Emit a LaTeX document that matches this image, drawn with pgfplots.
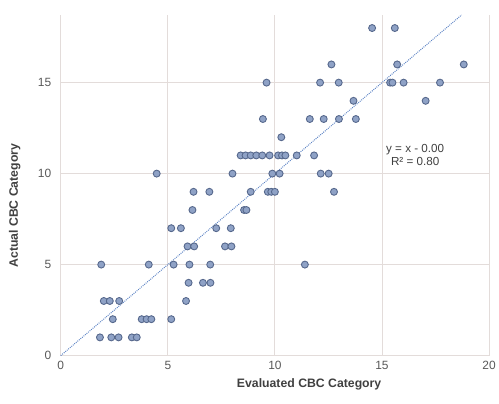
\documentclass[border=0pt]{standalone}
\usepackage{pgfplots}
\pgfplotsset{compat=1.18}
\usepackage{fontspec}
\setmainfont{Liberation Sans}
\definecolor{gridc}{HTML}{E3DCDA}
\definecolor{tickc}{HTML}{595959}
\definecolor{labc}{HTML}{404040}
\definecolor{mfill}{HTML}{8FA2C6}
\definecolor{mdraw}{HTML}{56688C}
\definecolor{trend}{HTML}{5B82C4}
\begin{document}
\begin{tikzpicture}
\begin{axis}[
  name=ax,
  scale only axis,
  width=430pt, height=342pt,
  xmin=0, xmax=20, ymin=0, ymax=18.72,
  xtick={0,5,10,15,20}, ytick={0,5,10,15},
  grid=major,
  major grid style={draw=gridc, line width=0.9pt},
  axis line style={draw=none},
  tick style={draw=none},
  ticklabel style={font=\fontsize{12}{14}\selectfont, text=tickc},
  /pgf/number format/assume math mode=true,
  xticklabel style={yshift=-2pt},
  yticklabel style={xshift=-6pt},
  xlabel={Evaluated CBC Category},
  ylabel={Actual CBC Category},
  label style={font=\bfseries\fontsize{12.3}{14}\selectfont, text=labc},
  xlabel style={at={(rel axis cs:0.58,0)}, anchor=north, yshift=-20pt},
  ylabel style={at={(rel axis cs:0,0.44)}, anchor=south, yshift=37pt},
  clip=false,
]
\addplot[trend, dash pattern=on 0.9pt off 1.1pt, line width=1pt, forget plot] coordinates {(0,0) (18.72,18.72)};
\addplot[only marks, mark=*, mark size=3.5pt, mark options={fill=mfill, draw=mdraw, line width=0.9pt}] coordinates {
(1.83,1) (2.36,1) (2.70,1) (3.32,1) (3.55,1)
(2.43,2) (3.78,2) (4.01,2) (4.23,2) (5.16,2)
(2.01,3) (2.29,3) (2.73,3) (5.85,3)
(5.97,4) (6.64,4) (6.99,4)
(1.89,5) (4.11,5) (5.27,5) (6.01,5) (6.98,5) (11.4,5)
(5.92,6) (6.23,6) (7.67,6) (7.97,6)
(5.16,7) (5.61,7) (7.26,7) (7.94,7)
(6.15,8) (8.56,8) (8.67,8)
(6.20,9) (6.94,9) (8.87,9) (9.67,9) (9.83,9) (10.0,9) (12.76,9)
(4.48,10) (8.02,10) (9.88,10) (10.22,10) (12.14,10) (12.51,10)
(8.40,11) (8.63,11) (8.87,11) (9.13,11) (9.41,11) (9.75,11) (10.15,11) (10.33,11) (10.49,11) (11.02,11) (11.83,11)
(10.3,12)
(9.44,13) (11.63,13) (12.28,13) (12.99,13) (13.78,13)
(13.67,14) (17.04,14)
(9.61,15) (12.11,15) (12.98,15) (15.38,15) (15.49,15) (16.01,15) (17.71,15)
(12.64,16) (15.71,16) (18.82,16)
(14.54,18) (15.6,18)
};
\node[text=labc, font=\fontsize{11.7}{13}\selectfont, align=center, inner sep=0pt] at (axis cs:16.55,11.0) {y = x - 0.00\\R² = 0.80};
\end{axis}
\path ([xshift=-61pt,yshift=-48pt]ax.south west) rectangle ([xshift=8pt,yshift=15pt]ax.north east);
\end{tikzpicture}
\end{document}
